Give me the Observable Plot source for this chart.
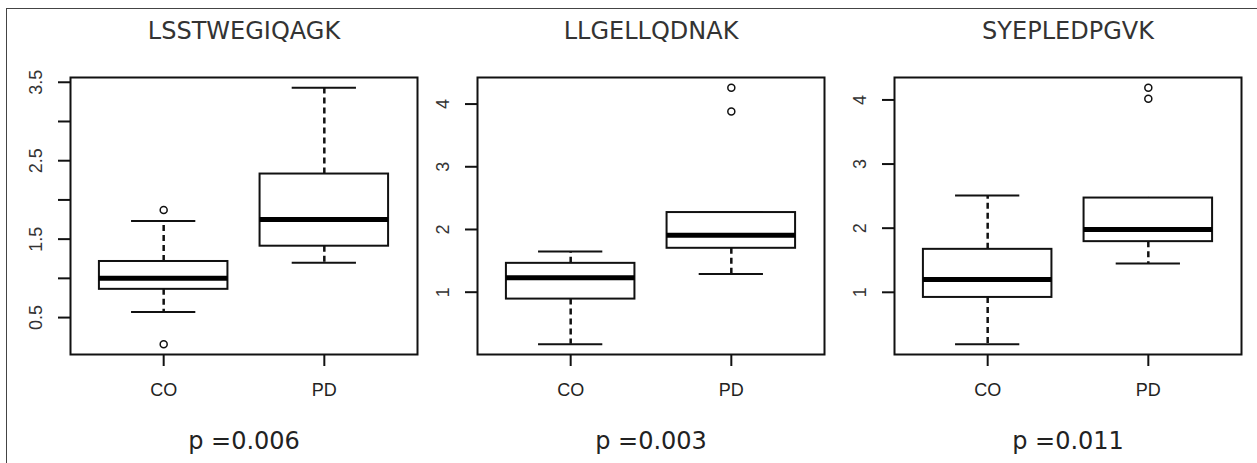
<!DOCTYPE html>
<html><head>
<meta charset="utf-8">
<script src="https://cdn.jsdelivr.net/npm/d3@7"></script>
<script src="https://cdn.jsdelivr.net/npm/@observablehq/plot@0.6"></script>
<style>
body{margin:0;background:#fff}
#fig{position:relative;width:1257px;height:463px;overflow:hidden;background:#fff}
#border{position:absolute;left:6px;top:8px;width:1300px;height:500px;border-left:1.5px solid #444;border-top:1.5px solid #444}
.panel{position:absolute;top:0}
</style>
</head><body>
<div id="fig"><div id="border"></div></div>
<script>
// ---- data ----
const groups = ["CO", "PD"];
const titles = ["LSSTWEGIQAGK", "LLGELLQDNAK", "SYEPLEDPGVK"];
const pLabels = ["p =0.006", "p =0.003", "p =0.011"];
const whiskerLow  = [[0.57, 1.20], [0.17, 1.29], [0.19, 1.45]];
const q1          = [[0.86, 1.41], [0.89, 1.70], [0.92, 1.79]];
const medians     = [[1.00, 1.75], [1.23, 1.91], [1.20, 1.98]];
const q3          = [[1.215, 2.33], [1.46, 2.27], [1.67, 2.47]];
const whiskerHigh = [[1.73, 3.43], [1.65, 2.27], [2.51, 2.47]];
const outliers    = [[[0.16, 1.87], []], [[], [3.88, 4.26]], [[], [4.02, 4.19]]];
const yTicks      = [[0.5, 1, 1.5, 2, 2.5, 3, 3.5], [1, 2, 3, 4], [1, 2, 3, 4]];
const yTickLabels = [["0.5", "1.5", "2.5", "3.5"], ["1", "2", "3", "4"], ["1", "2", "3", "4"]];

// ---- layout ----
const svgLefts = [0, 407, 824];
const fig = document.getElementById("fig");

titles.forEach((title, i) => {
  const rows = groups.map((g, j) => ({
    group: g, pos: j + 1,
    lo: whiskerLow[i][j], q1: q1[i][j], med: medians[i][j], q3: q3[i][j], hi: whiskerHigh[i][j]
  }));
  const outs = groups.flatMap((g, j) => outliers[i][j].map(v => ({pos: j + 1, v})));
  const all = rows.flatMap(r => [r.lo, r.hi]).concat(outs.map(o => o.v));
  const mn = d3.min(all), mx = d3.max(all), ext = (mx - mn) * 0.04;

  const svg = Plot.plot({
    width: 427, height: 463,
    marginLeft: 70, marginRight: 10, marginTop: 77, marginBottom: 109,
    style: {fontFamily: "'Liberation Sans', Arial, sans-serif", fontSize: "18px", color: "#222", background: "transparent"},
    x: {domain: [0.42, 2.58], axis: null},
    y: {domain: [mn - ext, mx + ext], axis: null},
    marks: [
      Plot.axisY({ticks: yTicks[i], tickSize: 12, tickFormat: () => "", label: null, stroke: "#111", strokeWidth: 2}),
      Plot.text(yTickLabels[i], {y: d => +d, text: d => d, frameAnchor: "left", lineAnchor: "middle", dx: -34, rotate: -90,
        textAnchor: "middle", fill: "#333", fontSize: 18}),
      Plot.axisX({ticks: [1, 2], tickSize: 12, tickFormat: d => groups[d - 1], tickPadding: 17, label: null,
        stroke: "#111", strokeWidth: 2, fill: "#222", fontSize: 18}),
      Plot.ruleX(rows, {x: "pos", y1: "q3", y2: "hi", stroke: "#111", strokeWidth: 2.5, strokeDasharray: "6,4"}),
      Plot.ruleX(rows, {x: "pos", y1: "q1", y2: "lo", stroke: "#111", strokeWidth: 2.5, strokeDasharray: "6,4"}),
      Plot.ruleY(rows, {y: "hi", x1: d => d.pos - 0.2, x2: d => d.pos + 0.2, stroke: "#111", strokeWidth: 2}),
      Plot.ruleY(rows, {y: "lo", x1: d => d.pos - 0.2, x2: d => d.pos + 0.2, stroke: "#111", strokeWidth: 2}),
      Plot.rect(rows, {x1: d => d.pos - 0.4, x2: d => d.pos + 0.4, y1: "q1", y2: "q3",
        fill: "white", stroke: "#111", strokeWidth: 2}),
      Plot.ruleY(rows, {y: "med", x1: d => d.pos - 0.4, x2: d => d.pos + 0.4, stroke: "#000", strokeWidth: 5}),
      Plot.dot(outs, {x: "pos", y: "v", r: 3.5, stroke: "#111", strokeWidth: 1.5, fill: "none"}),
      Plot.frame({stroke: "#111", strokeWidth: 2}),
      Plot.text([title], {frameAnchor: "top", lineAnchor: "middle", dy: -46, text: d => d,
        fontFamily: "'DejaVu Sans', Verdana, sans-serif", fontSize: 24, fill: "#333"}),
      Plot.text([pLabels[i]], {frameAnchor: "bottom", lineAnchor: "middle", dy: 87, text: d => d,
        fontFamily: "'DejaVu Sans', Verdana, sans-serif", fontSize: 24, fill: "#222"})
    ]
  });
  svg.classList.add("panel");
  svg.style.left = svgLefts[i] + "px";
  fig.appendChild(svg);
});
</script>
</body></html>
